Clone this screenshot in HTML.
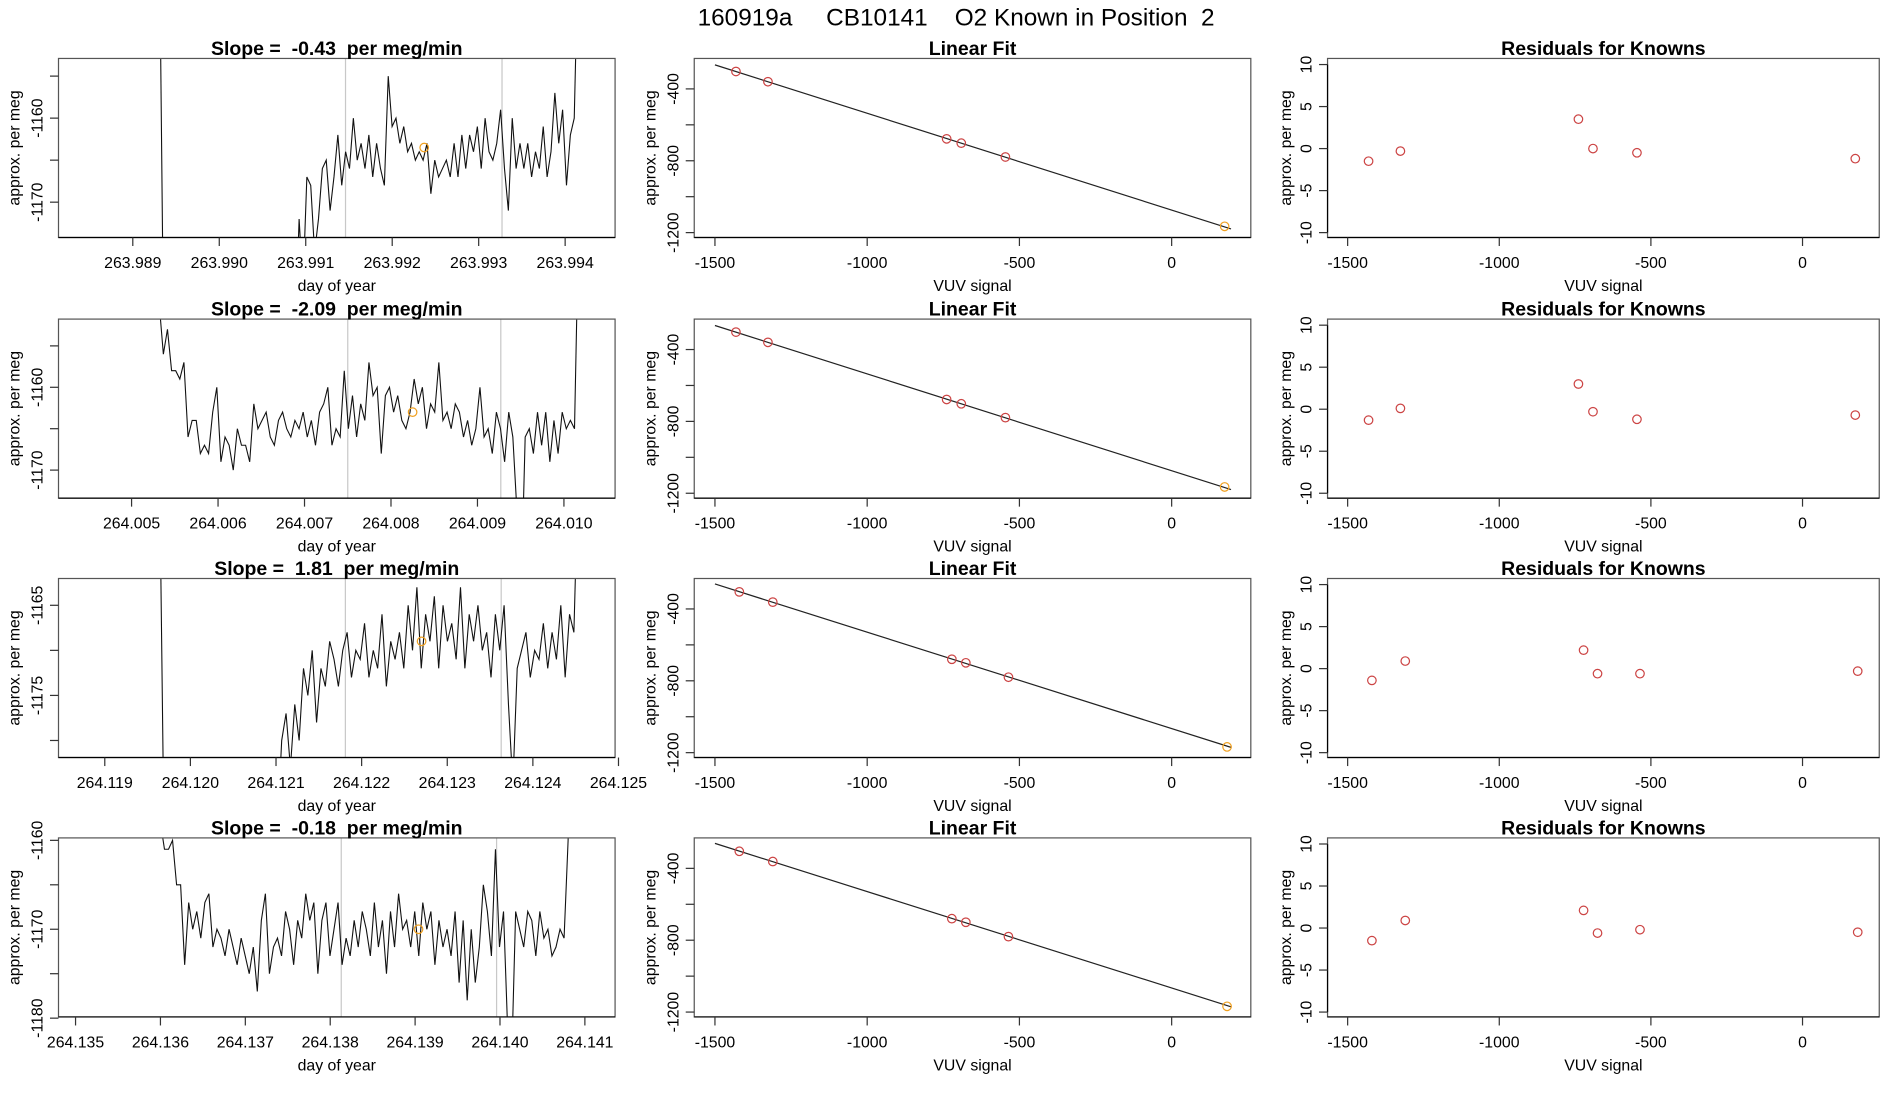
<!DOCTYPE html>
<html><head><meta charset="utf-8"><style>
html,body{margin:0;padding:0;background:#fff;}
svg{display:block;font-family:"Liberation Sans",Arial,sans-serif;}
text{white-space:pre;}
</style></head><body>
<svg id="chart" width="1900" height="1100" viewBox="0 0 1560 903.2" xmlns="http://www.w3.org/2000/svg">
<rect x="0" y="0" width="1560" height="904" fill="#fff"/>
<text x="785" y="21" font-size="20" text-anchor="middle">160919a     CB10141    O2 Known in Position  2</text>
</svg>
<script>
// ---- time-series data (rows) ----
const slopeLabels = ["-0.43", "-2.09", "1.81", "-0.18"];
const tsStart = [263.98931, 264.00532, 264.11964, 264.1360];
const tsEnd = [263.99415, 264.01017, 264.12453, 264.14085];
const tsTickFirst = [263.989, 264.005, 264.119, 264.135];
const tsTickCount = [6, 6, 7, 7];
const tsYTicks = [[-1160, -1170], [-1160, -1170], [-1165, -1175], [-1160, -1170, -1180]];
const tsYMinor = [[-1155, -1165, -1175], [-1155, -1165, -1175], [-1160, -1170, -1180], [-1165, -1175]];
const grayLines = [[263.99146, 263.99327], [264.00750, 264.00927], [264.12181, 264.12363], [264.13813, 264.13996]];
const orangeT = [263.99237, 264.00825, 264.12270, 264.13904];
const orangeV = [-1163.5, -1163, -1169, -1170];
const series1 = [-1140,-1185,-1185,-1185,-1185,-1185,-1185,-1185,-1185,-1185,-1185,-1185,-1185,-1185,-1185,-1185,-1185,-1185,-1185,-1185,-1185,-1185,-1185,-1185,-1185,-1185,-1185,-1185,-1185,-1185,-1185,-1185,-1185,-1185,
-1178,-1186,-1172,-1180,-1167,-1168,-1176,-1172,-1166,-1165,-1171,-1167,-1162,-1168,-1164,-1166,-1160,-1165,-1163,-1166,
-1162,-1167,-1163,-1166,-1168,-1155,-1161,-1160,-1163,-1161,-1164,-1163,-1165,-1164,-1165,-1163,-1169,-1165,-1167,-1166,
-1165,-1167,-1163,-1167,-1162,-1166,-1162,-1164,-1161,-1166,-1160,-1164,-1165,-1163,-1159,-1166,-1171,-1160,-1166,-1163,
-1166,-1163,-1167,-1164,-1166,-1161,-1167,-1164,-1157,-1163,-1159,-1168,-1162,-1160,-1140];
const series2 = [-1150,-1156,-1153,-1158,-1158,-1159,-1157,-1166,-1164,-1164,-1168,-1167,-1168,-1163,-1160,-1169,-1166,-1167,-1170,-1165,-1167,-1167,-1169,-1162,-1165,-1164,-1163,-1166,-1167,-1164,-1163,-1165,-1166,-1164,-1165,-1163,-1166,-1164,-1167,-1163,-1162,-1160,-1167,-1165,-1166,-1158,-1165,-1161,-1166,-1162,-1164,-1157,-1161,-1160,-1168,-1161,-1160,-1163,-1161,-1164,-1165,-1163,-1159,-1162,-1160,-1165,-1162,-1163,-1157,-1164,-1163,-1165,-1162,-1163,-1166,-1164,-1167,-1165,-1160,-1166,-1165,-1168,-1163,-1165,-1169,-1163,-1166,-1175,-1185,-1166,-1165,-1168,-1163,-1167,-1163,-1169,-1164,-1168,-1163,-1165,-1164,-1165,-1140];
const series3 = [-1150,-1190,-1190,-1190,-1190,-1190,-1190,-1190,-1190,-1190,-1190,-1190,-1190,-1190,-1190,-1190,-1190,-1190,-1190,-1190,-1190,-1190,-1190,-1190,-1190,-1190,-1190,-1190,
-1180,-1177,-1183,-1176,-1180,-1172,-1175,-1170,-1178,-1172,-1174,-1169,-1171,-1174,-1170,-1168,-1173,-1170,-1171,-1167,-1173,-1170,-1172,-1166,-1174,-1169,-1171,-1168,-1172,-1165,-1170,-1163,-1172,-1166,-1169,-1164,-1172,-1165,-1169,-1167,-1171,-1163,-1172,-1166,-1169,-1165,-1170,-1168,-1173,-1166,-1170,-1165,-1176,-1185,-1172,-1170,-1168,-1173,-1170,-1171,-1167,-1172,-1168,-1171,-1165,-1173,-1166,-1168,-1150];
const series4 = [-1158,-1161,-1161,-1160,-1165,-1165,-1174,-1167,-1170,-1168,-1171,-1167,-1166,-1172,-1170,-1171,-1173,-1170,-1172,-1174,-1171,-1173,-1175,-1172,-1177,-1169,-1166,-1175,-1172,-1171,-1173,-1168,-1170,-1174,-1169,-1171,-1166,-1169,-1167,-1175,-1169,-1167,-1173,-1170,-1167,-1174,-1171,-1173,-1169,-1172,-1168,-1170,-1173,-1167,-1172,-1169,-1175,-1168,-1172,-1166,-1170,-1169,-1172,-1168,-1173,-1167,-1170,-1168,-1174,-1169,-1172,-1170,-1173,-1168,-1176,-1169,-1178,-1170,-1176,-1172,-1165,-1168,-1173,-1161,-1172,-1168,-1181,-1185,-1168,-1170,-1172,-1168,-1169,-1173,-1168,-1171,-1170,-1173,-1172,-1170,-1171,-1160,-1140];
const allSeries = [series1, series2, series3, series4];

// ---- linear fit / residual data ----
const knownSignal = [[-1431,-1326,-739,-691,-546],[-1431,-1326,-739,-691,-546],[-1420,-1310,-722,-676,-536],[-1420,-1310,-722,-676,-536]];
const knownValue = [[-303,-360,-678,-702,-779],[-303,-360,-678,-702,-779],[-305,-362,-680,-700,-780],[-305,-362,-680,-700,-780]];
const unknownSignal = [174, 174, 182, 182];
const unknownValue = [-1165, -1165, -1168, -1168];
const residuals = [[-1.5,-0.3,3.5,0.0,-0.5],[-1.3,0.1,3.0,-0.3,-1.2],[-1.4,0.9,2.2,-0.6,-0.6],[-1.5,0.9,2.1,-0.6,-0.2]];
const unknownResid = [-1.2, -0.7, -0.3, -0.5];
const fitXTicks = [-1500, -1000, -500, 0];
const fitYTicks = [-400, -800, -1200];
const fitYMinor = [-600, -1000];
const resYTicks = [10, 5, 0, -5, -10];

const NS = "http://www.w3.org/2000/svg";
const svg = document.getElementById("chart");
function mk(tag, attrs, parent) {
  const e = document.createElementNS(NS, tag);
  for (const k in attrs) e.setAttribute(k, attrs[k]);
  (parent || svg).appendChild(e);
  return e;
}
function lin(d0, d1, r0, r1) { return v => r0 + (v - d0) / (d1 - d0) * (r1 - r0); }

const rowTop = [48, 262, 475, 688];
const boxH = 147;
const cols = [[48, 505], [570, 1027], [1090, 1543]];
const tsTickPx0 = [109, 108, 86, 62];
const tsTickStep = [71, 71, 70.3, 69.7];
const tsYRef = [49, 56, 22, 2];
const tsYScale = [6.9, 6.8, 7.4, 7.3];

function textEl(x, y, s, size, anchor, rot, bold) {
  const t = mk("text", {x: x, y: y, "font-size": size, "text-anchor": anchor || "middle"});
  if (rot) t.setAttribute("transform", "rotate(-90 " + x + " " + y + ")");
  if (bold) t.setAttribute("font-weight", "bold");
  t.textContent = s;
  return t;
}

for (let r = 0; r < 4; r++) {
  const top = rowTop[r], bot = top + boxH;
  // ===== Time series panel =====
  {
    const [L, R] = cols[0];
    const g = mk("g", {});
    
    
    const xs = lin(tsTickFirst[r], tsTickFirst[r] + 0.001, tsTickPx0[r], tsTickPx0[r] + tsTickStep[r]);
    const ys = v => top + tsYRef[r] + (tsYTicks[r][0] - v) * tsYScale[r];
    const cp = mk("clipPath", {id: "clipA" + r}, g);
    mk("rect", {x: L, y: top, width: R - L, height: boxH}, cp);
    const cg = mk("g", {"clip-path": "url(#clipA" + r + ")"}, g);
    grayLines[r].forEach(t => {
      const l = mk("line", {x1: xs(t), x2: xs(t), y1: top, y2: bot, stroke: "#c8c8c8", "stroke-width": 1}, cg);
      
      
    });
    const s = allSeries[r];
    const n = s.length;
    let d = "";
    for (let i = 0; i < n; i++) {
      const t = tsStart[r] + (tsEnd[r] - tsStart[r]) * i / (n - 1);
      d += (i ? "L" : "M") + xs(t).toFixed(2) + "," + ys(s[i]).toFixed(2);
    }
    const p = mk("path", {d: d, fill: "none", stroke: "#111", "stroke-width": 0.9}, cg);
    
    
    const oc = mk("circle", {cx: xs(orangeT[r]), cy: ys(orangeV[r]), r: 3.5, fill: "none", stroke: "#f0a020", "stroke-width": 1}, cg);
    
    
    mk("rect", {x: L, y: top, width: R - L, height: boxH, fill: "none", stroke: "#555", "stroke-width": 1}, g);
    mk("line", {x1: L, x2: R, y1: bot, y2: bot, stroke: "#000", "stroke-width": 1}, g);
    for (let k = 0; k < tsTickCount[r]; k++) {
      const v = tsTickFirst[r] + k * 0.001;
      const x = xs(v);
      mk("line", {x1: x, x2: x, y1: bot, y2: bot + 7, stroke: "#333"}, g);
      textEl(x, bot + 25, v.toFixed(3), 13);
    }
    tsYTicks[r].forEach(v => {
      const y = ys(v);
      mk("line", {x1: L, x2: L - 7, y1: y, y2: y, stroke: "#333"}, g);
      textEl(35, y, String(v), 13, "middle", true);
    });
    tsYMinor[r].forEach(v => {
      const y = ys(v);
      if (y > top + 1 && y < bot - 1) mk("line", {x1: L, x2: L - 7, y1: y, y2: y, stroke: "#333"}, g);
    });
    const ti = textEl((L + R) / 2, top - 3, "Slope =  " + slopeLabels[r] + "  per meg/min", 16, "middle", false, true);
    
    
    textEl(16, top + boxH / 2, "approx. per meg", 13, "middle", true);
    textEl((L + R) / 2, bot + 44, "day of year", 13);
  }
  // ===== Linear fit panel =====
  {
    const [L, R] = cols[1];
    const g = mk("g", {});
    
    
    const xs = lin(-1500, 0, 587, 962);
    const ys = lin(-400, -1200, top + 25, top + 143);
    mk("rect", {x: L, y: top, width: R - L, height: boxH, fill: "none", stroke: "#555", "stroke-width": 1}, g);
    mk("line", {x1: L, x2: R, y1: bot, y2: bot, stroke: "#000", "stroke-width": 1}, g);
    const X = knownSignal[r], Y = knownValue[r];
    const mx = X.reduce((a, b) => a + b, 0) / X.length, my = Y.reduce((a, b) => a + b, 0) / Y.length;
    let sxy = 0, sxx = 0;
    for (let i = 0; i < X.length; i++) { sxy += (X[i] - mx) * (Y[i] - my); sxx += (X[i] - mx) ** 2; }
    const b = sxy / sxx, a = my - b * mx;
    const x0 = -1500, x1 = 195;
    const fl = mk("line", {x1: xs(x0), y1: ys(a + b * x0), x2: xs(x1), y2: ys(a + b * x1), stroke: "#222", "stroke-width": 1}, g);
    
    
    for (let i = 0; i < X.length; i++) {
      const c = mk("circle", {cx: xs(X[i]), cy: ys(Y[i]), r: 3.5, fill: "none", stroke: "#cc4444", "stroke-width": 1}, g);
      
      
    }
    const oc = mk("circle", {cx: xs(unknownSignal[r]), cy: ys(unknownValue[r]), r: 3.5, fill: "none", stroke: "#f0a020", "stroke-width": 1}, g);
    
    
    fitXTicks.forEach(v => {
      const x = xs(v);
      mk("line", {x1: x, x2: x, y1: bot, y2: bot + 7, stroke: "#333"}, g);
      textEl(x, bot + 25, String(v), 13);
    });
    fitYTicks.forEach(v => {
      const y = ys(v);
      mk("line", {x1: L, x2: L - 7, y1: y, y2: y, stroke: "#333"}, g);
      textEl(557, y, String(v), 13, "middle", true);
    });
    fitYMinor.forEach(v => { const y = ys(v); mk("line", {x1: L, x2: L - 7, y1: y, y2: y, stroke: "#333"}, g); });
    textEl((L + R) / 2, top - 3, "Linear Fit", 16, "middle", false, true);
    textEl(538, top + boxH / 2, "approx. per meg", 13, "middle", true);
    textEl((L + R) / 2, bot + 44, "VUV signal", 13);
  }
  // ===== Residuals panel =====
  {
    const [L, R] = cols[2];
    const g = mk("g", {});
    
    
    const xs = lin(-1000, 0, 1231, 1480);
    const ys = lin(0, 10, top + 74, top + 5);
    mk("rect", {x: L, y: top, width: R - L, height: boxH, fill: "none", stroke: "#555", "stroke-width": 1}, g);
    mk("line", {x1: L, x2: R, y1: bot, y2: bot, stroke: "#000", "stroke-width": 1}, g);
    const X = knownSignal[r];
    for (let i = 0; i < X.length; i++) {
      const c = mk("circle", {cx: xs(X[i]), cy: ys(residuals[r][i]), r: 3.5, fill: "none", stroke: "#cc4444", "stroke-width": 1}, g);
      
      
    }
    const uc = mk("circle", {cx: xs(unknownSignal[r]), cy: ys(unknownResid[r]), r: 3.5, fill: "none", stroke: "#cc4444", "stroke-width": 1}, g);
    
    
    fitXTicks.forEach(v => {
      const x = xs(v);
      mk("line", {x1: x, x2: x, y1: bot, y2: bot + 7, stroke: "#333"}, g);
      textEl(x, bot + 25, String(v), 13);
    });
    mk("line", {x1: L, x2: L, y1: ys(10), y2: ys(-10), stroke: "#000"}, g);
    resYTicks.forEach(v => {
      const y = ys(v);
      mk("line", {x1: L, x2: L - 7, y1: y, y2: y, stroke: "#333"}, g);
      textEl(1077, y, String(v), 13, "middle", true);
    });
    textEl((L + R) / 2, top - 3, "Residuals for Knowns", 16, "middle", false, true);
    textEl(1060, top + boxH / 2, "approx. per meg", 13, "middle", true);
    textEl((L + R) / 2, bot + 44, "VUV signal", 13);
  }
}
</script>
</body></html>
